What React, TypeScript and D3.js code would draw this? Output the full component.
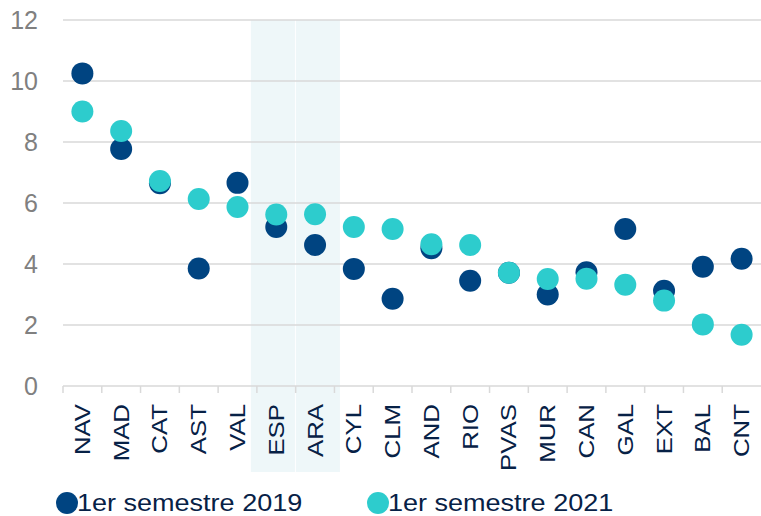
import React, { useEffect, useRef } from 'react';
import * as d3 from 'd3';

const regions = ['NAV', 'MAD', 'CAT', 'AST', 'VAL', 'ESP', 'ARA', 'CYL', 'CLM', 'AND', 'RIO', 'PVAS', 'MUR', 'CAN', 'GAL', 'EXT', 'BAL', 'CNT'];
const values2019 = [10.25, 7.77, 6.65, 3.85, 6.66, 5.21, 4.62, 3.84, 2.86, 4.52, 3.45, 3.71, 3.0, 3.73, 5.15, 3.12, 3.91, 4.17];
const values2021 = [9.0, 8.36, 6.72, 6.13, 5.87, 5.62, 5.63, 5.21, 5.15, 4.65, 4.62, 3.71, 3.51, 3.52, 3.32, 2.8, 2.02, 1.68];
const highlighted = ['ESP', 'ARA'];
const yTicks = [0, 2, 4, 6, 8, 10, 12];
const seriesNames = ['1er semestre 2019', '1er semestre 2021'];

const W = 761;
const H = 516;
const NAVY = '#004481';
const CYAN = '#2dcccd';
const TEXT_NAVY = '#072146';
const FONT = 'Liberation Sans, Arial, sans-serif';

const App = () => {
  const svgRef = useRef<SVGSVGElement>(null);

  useEffect(() => {
    const svg = d3.select(svgRef.current);
    svg.selectAll('*').remove();

    const margin = { top: 20, right: 0, bottom: 130, left: 63 };

    const x = d3
      .scaleBand()
      .domain(regions)
      .range([margin.left, W - margin.right]);

    const y = d3
      .scaleLinear()
      .domain([0, 12])
      .range([H - margin.bottom, margin.top]);

    // shaded columns behind ESP / ARA
    const shadeW = 44;
    svg
      .append('g')
      .selectAll('rect')
      .data(highlighted)
      .join('rect')
      .attr('x', (d, i) => (x(highlighted[0]) as number) - 6 + i * (shadeW + 1))
      .attr('y', y(12))
      .attr('width', shadeW)
      .attr('height', 472 - y(12))
      .attr('fill', '#eef7f9');

    // gridlines
    svg
      .append('g')
      .selectAll('line')
      .data(yTicks.filter((t) => t > 0))
      .join('line')
      .attr('x1', margin.left)
      .attr('x2', W)
      .attr('y1', (d) => y(d))
      .attr('y2', (d) => y(d))
      .attr('stroke', '#d9d9d9')
      .attr('stroke-width', 1.5);

    // y labels
    svg
      .append('g')
      .selectAll('text')
      .data(yTicks)
      .join('text')
      .attr('x', 38)
      .attr('y', (d) => y(d))
      .attr('dy', '0.36em')
      .attr('text-anchor', 'end')
      .attr('font-family', FONT)
      .attr('font-size', 25)
      .attr('fill', '#808080')
      .text((d) => d);

    // x axis
    const xAxis = svg.append('g').attr('transform', `translate(0,${y(0)})`);
    xAxis
      .append('line')
      .attr('x1', margin.left)
      .attr('x2', W)
      .attr('stroke', '#d9d9d9')
      .attr('stroke-width', 1.5);
    const boundaries = regions.map((r) => x(r) as number);
    xAxis
      .selectAll('line.tick')
      .data(boundaries)
      .join('line')
      .attr('class', 'tick')
      .attr('x1', (d) => d)
      .attr('x2', (d) => d)
      .attr('y1', 0)
      .attr('y2', 7)
      .attr('stroke', '#d9d9d9')
      .attr('stroke-width', 1.5);
    xAxis
      .selectAll('text')
      .data(regions)
      .join('text')
      .attr('transform', (d) => `translate(${(x(d) as number) + x.bandwidth() / 2},18) rotate(-90) scale(1.2,1)`)
      .attr('dy', '0.35em')
      .attr('text-anchor', 'end')
      .attr('font-family', FONT)
      .attr('font-size', 21.5)
      .attr('fill', TEXT_NAVY)
      .text((d) => d);

    // dots: 2019 first, 2021 on top
    const series = [
      { values: values2019, color: NAVY },
      { values: values2021, color: CYAN },
    ];
    series.forEach((s) => {
      svg
        .append('g')
        .selectAll('circle')
        .data(s.values)
        .join('circle')
        .attr('cx', (d, i) => (x(regions[i]) as number) + x.bandwidth() / 2)
        .attr('cy', (d) => y(d))
        .attr('r', 11)
        .attr('fill', s.color);
    });

    // legend
    const legendX = [67, 378];
    const legend = svg
      .append('g')
      .selectAll('g')
      .data(seriesNames)
      .join('g')
      .attr('transform', (d, i) => `translate(${legendX[i]},503)`);
    legend
      .append('circle')
      .attr('r', 11)
      .attr('fill', (d, i) => series[i].color);
    legend
      .append('text')
      .attr('transform', 'translate(10,0) scale(1.15,1)')
      .attr('dy', '0.36em')
      .attr('font-family', FONT)
      .attr('font-size', 23.5)
      .attr('fill', TEXT_NAVY)
      .text((d) => d);
  }, []);

  return (
    <svg
      ref={svgRef}
      width={W}
      height={H}
      style={{ position: 'absolute', left: 0, top: 0, background: 'white' }}
    />
  );
};

export default App;
